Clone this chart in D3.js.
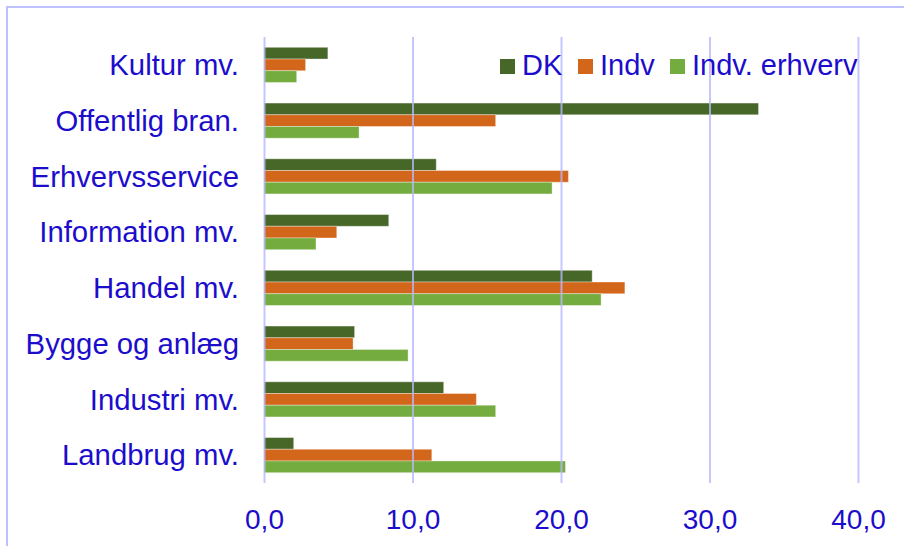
<!DOCTYPE html>
<html>
<head>
<meta charset="utf-8">
<script src="https://cdn.jsdelivr.net/npm/d3@7"></script>
<style>
  body { margin: 0; background: #fff; }
  text { font-family: "Liberation Sans", Arial, sans-serif; fill: #1c0ccc; }
</style>
</head>
<body>
<script>
// categories top to bottom
let categories = ['Kultur mv.', 'Offentlig bran.', 'Erhvervsservice', 'Information mv.',
  'Handel mv.', 'Bygge og anlæg', 'Industri mv.', 'Landbrug mv.'];
let seriesNames = ['DK', 'Indv', 'Indv. erhverv'];
let dkValues = [4.3, 33.3, 11.6, 8.4, 22.1, 6.1, 12.1, 2.0];
let indvValues = [2.8, 15.6, 20.5, 4.9, 24.3, 6.0, 14.3, 11.3];
let erhvervValues = [2.2, 6.4, 19.4, 3.5, 22.7, 9.7, 15.6, 20.3];
let tickValues = [0, 10, 20, 30, 40];

let colors = ['#476728', '#d2661a', '#74ac3f'];
let seriesValues = [dkValues, indvValues, erhvervValues];

let margin = { top: 37, right: 46, bottom: 63, left: 264 };
let fullWidth = 904, fullHeight = 546;
let width = fullWidth - margin.left - margin.right;
let height = fullHeight - margin.top - margin.bottom;

let svg = d3.select('body').append('svg')
    .attr('width', fullWidth)
    .attr('height', fullHeight);

// outer frame (right and bottom edges are cut off in the picture)
svg.append('rect')
  .attr('x', 7).attr('y', 7)
  .attr('width', fullWidth + 10).attr('height', fullHeight + 10)
  .attr('fill', 'none')
  .attr('stroke', '#c0c0ff')
  .attr('stroke-width', 2);

let g = svg.append('g')
    .attr('transform', 'translate(' + margin.left + ',' + margin.top + ')');

let x = d3.scaleLinear().domain([0, 40]).range([0, width]);
let y = d3.scaleBand().domain(categories).range([0, height]).paddingInner(0.37).paddingOuter(0.185);
let ySub = d3.scaleBand().domain(seriesNames).range([0, y.bandwidth()]);

// bars
let rows = categories.map(function(c, i) {
  return { cat: c, vals: seriesNames.map(function(s, j) { return { name: s, value: seriesValues[j][i], color: colors[j] }; }) };
});

let groups = g.selectAll('.group')
    .data(rows)
  .enter().append('g')
    .attr('class', 'group')
    .attr('transform', function(d) { return 'translate(0,' + y(d.cat) + ')'; });

groups.selectAll('rect')
    .data(function(d) { return d.vals; })
  .enter().append('rect')
    .attr('x', x(0))
    .attr('y', function(d) { return ySub(d.name); })
    .attr('width', function(d) { return x(d.value) - x(0); })
    .attr('height', ySub.bandwidth())
    .attr('fill', function(d) { return d.color; })
    .attr('stroke', 'rgba(255,255,255,0.35)')
    .attr('stroke-width', 1);

// gridlines on top, a bit see-through
let xGrid = d3.axisBottom(x).tickValues(tickValues).tickSize(-height).tickFormat('');
g.append('g')
  .attr('class', 'grid')
  .attr('transform', 'translate(0,' + height + ')')
  .call(xGrid)
  .call(function(s) { s.select('.domain').remove(); })
  .selectAll('line')
    .attr('stroke', '#b8b8ff')
    .attr('stroke-opacity', 0.8)
    .attr('stroke-width', 2);

// x axis labels
let xAxis = d3.axisBottom(x).tickValues(tickValues).tickSize(0)
  .tickFormat(function(d) { return d3.format('.1f')(d).replace('.', ','); });
g.append('g')
  .attr('transform', 'translate(0,' + height + ')')
  .call(xAxis)
  .call(function(s) { s.select('.domain').remove(); })
  .selectAll('text')
    .attr('y', 46)
    .attr('dy', 0)
    .style('font-size', '28px');

// y axis labels
let yAxis = d3.axisLeft(y).tickSize(0).tickPadding(25);
g.append('g')
  .call(yAxis)
  .call(function(s) { s.select('.domain').remove(); })
  .selectAll('text')
    .attr('dy', '0.35em')
    .style('font-size', '29.3px');

// legend
let legendX = [500, 578, 670];
let legend = svg.selectAll('.legend')
    .data(seriesNames)
  .enter().append('g')
    .attr('class', 'legend')
    .attr('transform', function(d, i) { return 'translate(' + legendX[i] + ',59)'; });

legend.append('rect')
  .attr('width', 15).attr('height', 15)
  .attr('fill', function(d, i) { return colors[i]; });

legend.append('text')
  .attr('x', 22)
  .attr('y', 16)
  .style('font-size', '29px')
  .text(function(d) { return d; });
</script>
</body>
</html>
